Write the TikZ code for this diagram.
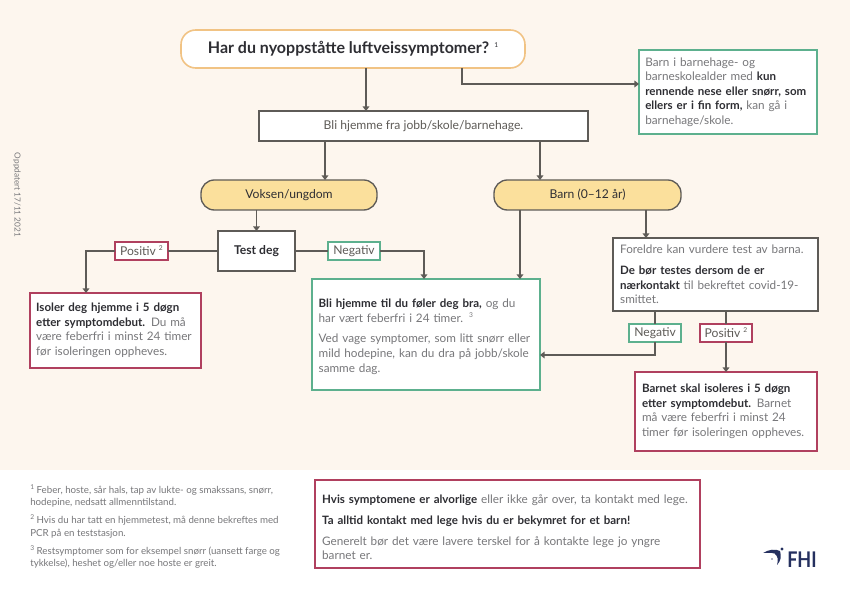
\documentclass[tikz,border=0pt]{standalone}
\usepackage{fontspec}
\setmainfont{Lato}
\usetikzlibrary{arrows.meta}
\definecolor{bgc}{HTML}{FDF6EE}
\definecolor{tg}{HTML}{77777A}
\definecolor{td}{HTML}{2E2E33}
\definecolor{lg}{HTML}{5E5B57}
\definecolor{gr}{HTML}{5DB08E}
\definecolor{rd}{HTML}{B0405F}
\definecolor{or}{HTML}{F1C384}
\definecolor{ye}{HTML}{FBE09C}
\definecolor{navy}{HTML}{25305F}
\newcommand{\B}[1]{{\fontsize{8.65}{10.9}\selectfont\bfseries\color{td}#1}}
\newcommand{\su}[1]{\raisebox{.42em}{\fontsize{5}{5}\selectfont #1}}
\newcommand{\pgap}{\\[4.8pt]}
% \pbox{name}{style}{x0}{y0}{x1}{y1}{text}
\newcommand{\pbox}[7]{%
  \pgfmathsetmacro{\cx}{(#3+#5)/2}\pgfmathsetmacro{\cy}{(#4+#6)/2}%
  \pgfmathsetmacro{\bw}{(#5-#3)*0.75}\pgfmathsetmacro{\bh}{(#6-#4)*0.75}%
  \node[#2,minimum width=\bw pt,minimum height=\bh pt] (#1) at (\cx,\cy) {#7};}
\tikzset{
  x=0.75pt,y=-0.75pt,
  base/.style={draw,fill=white,line width=1pt,inner sep=0pt,outer sep=0pt,text=tg,
     font=\fontsize{9.1}{10.9}\selectfont},
  txt/.style={base,align=left,text width=#1,font=\fontsize{8.8}{10.9}\selectfont},
  graybox/.style={base,draw=lg,align=center,text=lg},
  greenbox/.style={txt=#1,draw=gr},
  redbox/.style={txt=#1,draw=rd},
  grayt/.style={txt=#1,draw=lg},
  tag/.style={base,align=center,text=lg},
  pill/.style={base,rounded corners=10pt,fill=ye,draw=lg,text=td,align=center},
  conn/.style={draw=lg,line width=1pt},
  arr/.style={conn,-{Triangle[width=5pt,length=3.4pt]}},
}
\begin{document}
\begin{tikzpicture}
\useasboundingbox (0,0) rectangle (850,605);
\fill[white] (0,0) rectangle (850,605);
\fill[bgc] (0,0) rectangle (850,470);

\pbox{title}{base,rounded corners=11pt,draw=or,text=td,font=\fontsize{12}{14}\selectfont\bfseries,line width=1.2pt}{181}{30}{525}{68}{Har du nyoppståtte luftveissymptomer? \su{\mdseries 1}}
\pbox{bli}{graybox}{259}{111}{588}{141}{Bli hjemme fra jobb/skole/barnehage.}
\pbox{voksen}{pill}{201}{180}{377}{210}{Voksen/ungdom}
\pbox{barn}{pill}{494}{180}{681}{210}{Barn (0–12 år)}
\pbox{test}{graybox,text=td,font=\fontsize{9.1}{10.9}\selectfont\bfseries}{218}{231}{295}{271}{Test deg}
\pbox{pos}{tag,draw=rd}{115}{242}{168}{260}{Positiv \su{2}}
\pbox{neg}{tag,draw=gr}{328}{242}{380}{260}{Negativ}
\pbox{isoler}{redbox=119pt}{30}{293}{201}{368}{\B{Isoler deg hjemme i 5 døgn}\\\B{etter symptomdebut.} Du må\\være feberfri i minst 24 timer\\før isoleringen oppheves.}
\pbox{green}{greenbox=161pt}{312}{279}{540}{390}{\rule{0pt}{9.5pt}\B{Bli hjemme til du føler deg bra,} og du\\har vært feberfri i 24 timer. \su{3}\pgap Ved vage symptomer, som litt snørr eller\\mild hodepine, kan du dra på jobb/skole\\samme dag.}
\pbox{foreldre}{grayt=143pt}{613}{238}{818}{311}{Foreldre kan vurdere test av barna.\pgap\B{De bør testes dersom de er}\\\B{nærkontakt} til bekreftet covid-19-\\smittet.}
\pbox{neg2}{tag,draw=gr}{629}{324}{681}{342}{Negativ}
\pbox{pos2}{tag,draw=rd}{700}{324}{752}{342}{Positiv \su{2}}
\pbox{barnet}{redbox=126pt}{635}{372}{817}{451}{\B{Barnet skal isoleres i 5 døgn}\\\B{etter symptomdebut.} Barnet\\må være feberfri i minst 24\\timer før isoleringen oppheves.}
\pbox{info}{greenbox=124pt}{639}{50}{817}{134}{Barn i barnehage- og\\barneskolealder med \B{kun}\\\B{rennende nese eller snørr, som}\\\B{ellers er i fin form,} kan gå i\\barnehage/skole.}
\pbox{lege}{redbox=278pt}{315}{480}{700}{568}{\rule{0pt}{11.5pt}\B{Hvis symptomene er alvorlige} eller ikke går over, ta kontakt med lege.\pgap\B{Ta alltid kontakt med lege hvis du er bekymret for et barn!}\pgap Generelt bør det være lavere terskel for å kontakte lege jo yngre\\barnet er.}

\node[text=tg,align=left,anchor=north west,inner sep=0pt,font=\fontsize{7.3}{9.4}\selectfont] (notes) at (30,484)
 {\su{1} Feber, hoste, sår hals, tap av lukte- og smakssans, snørr,\\hodepine, nedsatt allmenntilstand.\\[4.1pt]
  \su{2} Hvis du har tatt en hjemmetest, må denne bekreftes med\\PCR på en teststasjon.\\[4.1pt]
  \su{3} Restsymptomer som for eksempel snørr (uansett farge og\\tykkelse), heshet og/eller noe hoste er greit.};
\node[text=tg,rotate=-90,inner sep=0pt,font=\fontsize{6.2}{7}\selectfont] (date) at (17,195) {Oppdatert 17/11 2021};

% connectors
\coordinate (c1) at (462,84);
\coordinate (c2) at (86,251);
\coordinate (c3) at (424,251);
\coordinate (c4) at (655,355);
\draw[arr] (366,0 |- title.south) -- (366,0 |- bli.north);
\draw[arr] (462,0 |- title.south) -- (c1) -- (c1 -| info.west);
\draw[arr] (325,0 |- bli.south) -- (325,0 |- voksen.north);
\draw[arr] (540,0 |- bli.south) -- (540,0 |- barn.north);
\draw[arr] (test.north |- voksen.south) -- (test.north);
\draw[conn] (test.west) -- (pos.east);
\draw[arr] (pos.west) -- (c2) -- (c2 |- isoler.north);
\draw[conn] (test.east) -- (neg.west);
\draw[arr] (neg.east) -- (c3) -- (c3 |- green.north);
\draw[arr] (520,0 |- barn.south) -- (520,0 |- green.north);
\draw[arr] (646,0 |- barn.south) -- (646,0 |- foreldre.north);
\draw[conn] (neg2.north |- foreldre.south) -- (neg2.north);
\draw[arr] (neg2.south) -- (c4) -- (c4 -| green.east);
\draw[conn] (pos2.north |- foreldre.south) -- (pos2.north);
\draw[arr] (pos2.south) -- (pos2.south |- barnet.north);

% FHI logo
\node[text=navy,anchor=west,inner sep=0pt,font=\fontsize{13.5}{14}\selectfont\bfseries] (fhi) at (787,560) {\scalebox{1}[1.2]{FHI}};
\fill[navy] (763,553) .. controls (769,549.5) and (775,548.5) .. (780,551) .. controls (781.5,556) and (781,561) .. (777,565) .. controls (778.5,560) and (778,556) .. (774.5,553.5) .. controls (771,552.5) and (767,553) .. (763,553) -- cycle;
\fill[navy] (782,549) circle (1.6);
\fill[navy!70] (772,559) circle (0.8);
\end{tikzpicture}
\end{document}
